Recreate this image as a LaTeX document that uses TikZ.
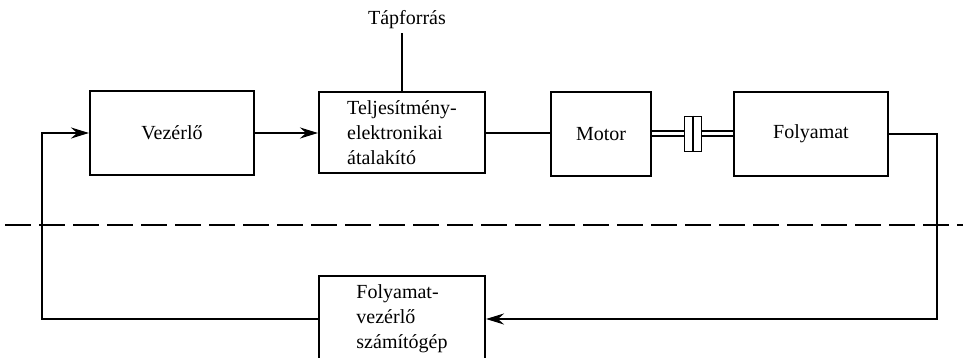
\documentclass[tikz,border=0pt]{standalone}
\usepackage{fontspec}
\setmainfont{Liberation Serif}
\usetikzlibrary{arrows.meta}
\begin{document}
\begin{tikzpicture}[x=1pt,y=-1pt,
  box/.style={draw,line width=2pt,inner sep=0pt,font=\fontsize{20}{25}\selectfont},
  conn/.style={line width=2.2pt},
  arr/.style={conn,-{Stealth[length=18pt,width=11pt,inset=6pt]}},
  shaft/.style={double,double distance=3pt,line width=2pt}]
\useasboundingbox (0,0) rectangle (963,358);
\clip (0,0) rectangle (963,358);
\node[box,minimum width=164pt,minimum height=84pt] (vez) at (172,133) {Vezérlő};
\node[box,minimum width=166pt,minimum height=81pt,align=left] (tel) at (402,133) {Teljesítmény-\\elektronikai\\átalakító};
\node[font=\fontsize{20}{25}\selectfont,anchor=base] (tap) at (407,25) {Tápforrás};
\node[box,minimum width=100pt,minimum height=84pt] (mot) at (601,134) {Motor};
\node[box,minimum width=154pt,minimum height=84pt] (fol) at (811,134) {Folyamat};
\node[draw,line width=1.6pt,inner sep=0pt,minimum width=17pt,minimum height=35pt] (cp) at (693,134) {};
\node[box,minimum width=166pt,minimum height=86pt,align=left] (comp) at (402,319) {Folyamat-\\vezérlő\\számítógép};
\coordinate (r) at (937,134);
\coordinate (l) at (42,315);
\draw[arr] (vez.east) -- (tel.west);
\draw[conn] (tel.east) -- (tel.east -| mot.west);
\draw[conn] (tel.north) -- (tel.north |- 0,33);
\draw[shaft] (mot.east) -- (cp.west);
\draw[shaft] (cp.east) -- (fol.west);
\draw[line width=1.4pt] (cp.north) -- (cp.south);
\draw[arr] (fol.east) -- (r) |- (comp.east);
\draw[arr] (comp.west) -| (l) |- (vez.west);
\draw[line width=1.5pt,dash pattern=on 26pt off 8pt] (5,225) -- (963,225);
\end{tikzpicture}
\end{document}
